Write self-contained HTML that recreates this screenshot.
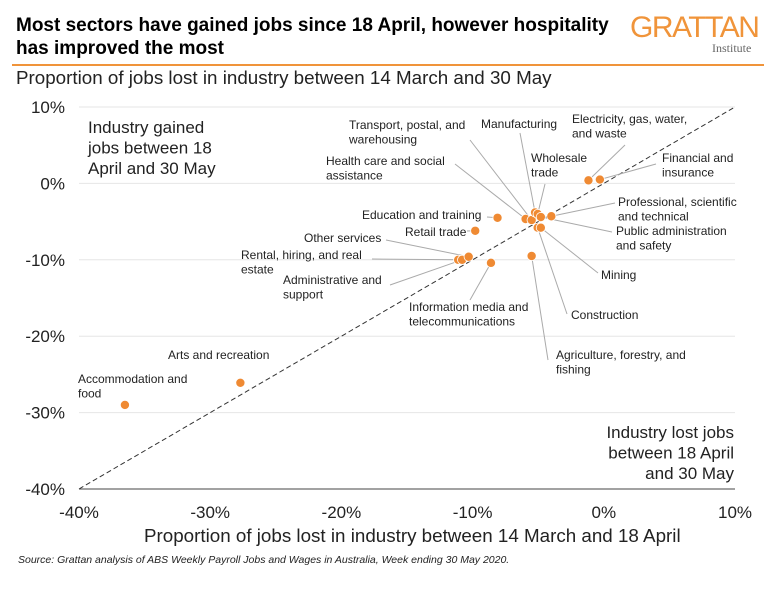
<!DOCTYPE html>
<html><head><meta charset="utf-8"><style>
body{margin:0;background:#fff;font-family:"Liberation Sans",Arial,sans-serif;}
#wrap{position:relative;width:780px;height:598px;overflow:hidden;}
.t{position:absolute;white-space:nowrap;}
</style></head><body>
<div id="wrap">
<div class="t" style="left:16px;top:14px;font-size:19px;font-weight:bold;line-height:23px;color:#000;">Most sectors have gained jobs since 18 April, however hospitality<br>has improved the most</div>
<div class="t" style="left:630px;top:11px;font-size:30px;color:#f0943a;letter-spacing:-1.5px;">GRATTAN</div>
<div class="t" style="left:712px;top:41px;font-size:12px;color:#666;font-family:'Liberation Serif',serif;">Institute</div>
<div style="position:absolute;left:12px;top:64px;width:752px;height:2px;background:#f0943a;"></div>
<div class="t" style="left:16px;top:67px;font-size:18.8px;color:#222;">Proportion of jobs lost in industry between 14 March and 30 May</div>
<div class="t" style="left:144px;top:525px;font-size:18.8px;color:#222;">Proportion of jobs lost in industry between 14 March and 18 April</div>
<div class="t" style="left:18px;top:554px;font-size:10.5px;font-style:italic;color:#222;">Source: Grattan analysis of ABS Weekly Payroll Jobs and Wages in Australia, Week ending 30 May 2020.</div>
<svg id="plot" width="780" height="598" style="position:absolute;left:0;top:0"></svg>
</div>
<script>
const xTicks=[-40,-30,-20,-10,0,10];
const yTicks=[10,0,-10,-20,-30,-40];
const industries=["Accommodation and food","Arts and recreation","Rental, hiring, and real estate","Administrative and support","Other services","Information media and telecommunications","Retail trade","Education and training","Agriculture, forestry, and fishing","Health care and social assistance","Transport, postal, and warehousing","Manufacturing","Wholesale trade","Professional, scientific and technical","Public administration and safety","Construction","Mining","Electricity, gas, water, and waste","Financial and insurance"];
const aprilLoss=[-36.5,-27.7,-11.1,-10.8,-10.3,-8.6,-9.8,-8.1,-5.5,-5.96,-5.5,-5.24,-5.04,-4.0,-4.8,-5.04,-4.8,-1.17,-0.3];
const mayLoss=[-29.0,-26.1,-10.0,-10.0,-9.6,-10.4,-6.2,-4.5,-9.5,-4.66,-4.8,-3.8,-4.0,-4.3,-4.4,-5.8,-5.8,0.4,0.5];
// label layout (pixels): [text lines, left, top, leader anchor x, anchor y]
const labelLayout=[
 [["Accommodation and","food"],78,372,null,null],
 [["Arts and recreation"],168,348,null,null],
 [["Rental, hiring, and real","estate"],241,248,372,259],
 [["Administrative and","support"],283,273,390,285],
 [["Other services"],304,231,386,240],
 [["Information media and","telecommunications"],409,300,470,300],
 [["Retail trade"],405,225,467,231],
 [["Education and training"],362,208,487,217],
 [["Agriculture, forestry, and","fishing"],556,348,548,360],
 [["Health care and social","assistance"],326,154,455,164],
 [["Transport, postal, and","warehousing"],349,118,470,140],
 [["Manufacturing"],481,117,520,133],
 [["Wholesale","trade"],531,151,545,184],
 [["Professional, scientific","and technical"],618,195,615,203],
 [["Public administration","and safety"],616,224,612,232],
 [["Construction"],571,308,567,314],
 [["Mining"],601,268,598,273],
 [["Electricity, gas, water,","and waste"],572,112,625,145],
 [["Financial and","insurance"],662,151,656,164]
];
const svg=document.getElementById('plot');
const NS='http://www.w3.org/2000/svg';
const X0=79,X1=735,Y0=107,Y1=489;
function xs(v){return X0+(v+40)/50*(X1-X0);}
function ys(v){return Y0+(10-v)/50*(Y1-Y0);}
function mk(t,a,parent){const e=document.createElementNS(NS,t);for(const k in a)e.setAttribute(k,a[k]);(parent||svg).appendChild(e);return e;}
yTicks.forEach(v=>{
 const g=mk('line',{x1:X0,x2:X1,y1:ys(v),y2:ys(v),stroke:v===-40?'#444':'#e6e6e6','stroke-width':1});
 
 
 const t=mk('text',{x:X0-14,y:ys(v)+6,'text-anchor':'end','font-size':17,fill:'#222','font-family':'Liberation Sans, sans-serif'});
 t.textContent=v+'%';
 
 
});
xTicks.forEach(v=>{
 const t=mk('text',{x:xs(v),y:Y1+29,'text-anchor':'middle','font-size':17,fill:'#222','font-family':'Liberation Sans, sans-serif'});
 t.textContent=v+'%';
 
 
});
const diag=mk('line',{x1:xs(-40),y1:ys(-40),x2:xs(10),y2:ys(10),stroke:'#333','stroke-width':1,'stroke-dasharray':'5,3'});


function para(lines,x,y,size,anchor,name){
 const t=mk('text',{x:x,y:y,'font-size':size,fill:'#222','text-anchor':anchor||'start','font-family':'Liberation Sans, sans-serif'});
 lines.forEach((l,i)=>{const s=mk('tspan',{x:x,dy:i?size*1.2:0},t);s.textContent=l;});
 
 
}
para(["Industry gained","jobs between 18","April and 30 May"],88,133,17,'start','annotation-gained');
para(["Industry lost jobs","between 18 April","and 30 May"],734,438,17,'end','annotation-lost');
industries.forEach((n,i)=>{
 const L=labelLayout[i];
 const px=xs(aprilLoss[i]),py=ys(mayLoss[i]);
 if(L[3]!==null){
  const l=mk('line',{x1:L[3],y1:L[4],x2:px,y2:py,stroke:'#aaa','stroke-width':1});
  
  
 }
 para(L[0],L[1],L[2]+11,12,'start','point-label');
});
industries.forEach((n,i)=>{
 const c=mk('circle',{cx:xs(aprilLoss[i]),cy:ys(mayLoss[i]),r:4.6,fill:'#ef8a33',stroke:'#fff','stroke-width':0.8});
 
 
});
</script>
</body></html>
